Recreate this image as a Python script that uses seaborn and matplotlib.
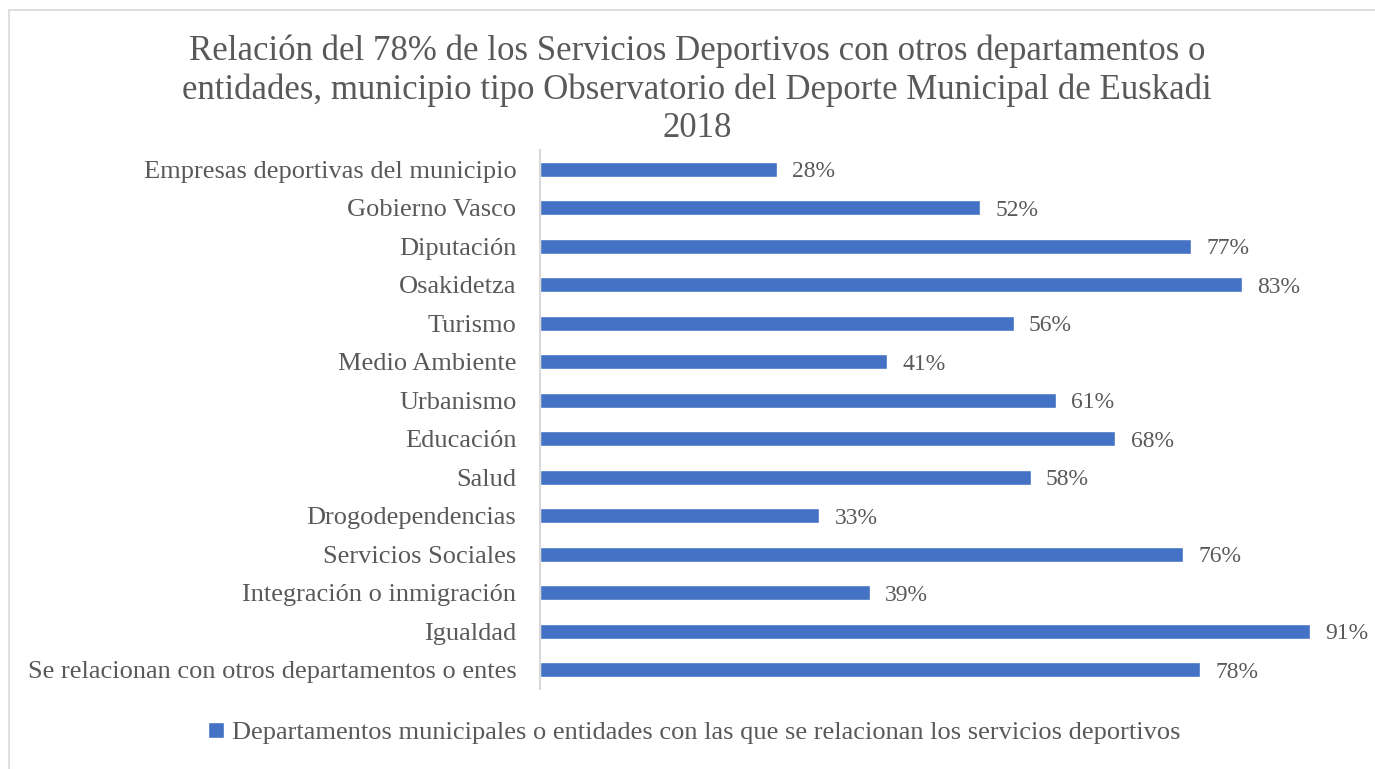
import matplotlib
matplotlib.use("Agg")
import matplotlib.pyplot as plt
from matplotlib.patches import Rectangle
import pandas as pd
import seaborn as sns

categorias = [
    "Empresas deportivas del municipio",
    "Gobierno Vasco",
    "Diputación",
    "Osakidetza",
    "Turismo",
    "Medio Ambiente",
    "Urbanismo",
    "Educación",
    "Salud",
    "Drogodependencias",
    "Servicios Sociales",
    "Integración o inmigración",
    "Igualdad",
    "Se relacionan con otros departamentos o entes",
]
porcentajes = [28, 52, 77, 83, 56, 41, 61, 68, 58, 33, 76, 39, 91, 78]
serie = "Departamentos municipales o entidades con las que se relacionan los servicios deportivos"
titulo = ("Relación del 78% de los Servicios Deportivos con otros departamentos o\n"
          "entidades, municipio tipo Observatorio del Deporte Municipal de Euskadi\n"
          "2018")

sns.set_theme(style="white")
plt.rcParams["font.family"] = ["Liberation Serif", "DejaVu Serif"]

gris = "#595959"
azul = "#4472C4"

df = pd.DataFrame({"categoria": categorias, "valor": porcentajes})

fig = plt.figure(figsize=(13.75, 7.69), dpi=100)
fig.patch.set_facecolor("white")

# chart-area frame
fig.patches.append(Rectangle((9 / 1375, -0.05), 1.2, 1 - 10 / 769 + 0.05,
                             transform=fig.transFigure, fill=False,
                             edgecolor="#D9D9D9", linewidth=1.2, zorder=0))

ax = fig.add_axes([540 / 1375, 1 - 689 / 769, 846 / 1375, 539 / 769])
sns.barplot(data=df, x="valor", y="categoria", orient="h", color=azul,
            width=0.39, saturation=1, ax=ax, label=serie)

ax.set_xlim(0, 100)
ax.set_ylim(13.5, -0.5)
ax.set_xlabel("")
ax.set_ylabel("")
ax.set_xticks([])
for s in ["top", "right", "bottom"]:
    ax.spines[s].set_visible(False)
ax.spines["left"].set_color("#D9D9D9")
ax.spines["left"].set_linewidth(1.5)
ax.tick_params(axis="y", length=0, pad=17, labelsize=19, labelcolor=gris)
ax.set_facecolor("none")

etiquetas = ax.bar_label(ax.containers[0], labels=[f"{v}%" for v in porcentajes],
                         padding=11, fontsize=17, color=gris)
for t in etiquetas:
    t.set_verticalalignment("center_baseline")

fig.text(697 / 1375, 1 - 90 / 769, titulo, ha="center", va="center",
         fontsize=25, color=gris, linespacing=1.2)

leg = ax.legend(loc="center", bbox_to_anchor=(694 / 1375, 1 - 733 / 769),
                bbox_transform=fig.transFigure, frameon=False, fontsize=19,
                handlelength=0.6, handleheight=0.6, handletextpad=0.3)
for t in leg.get_texts():
    t.set_color(gris)

fig.savefig("out.png", dpi=100)
